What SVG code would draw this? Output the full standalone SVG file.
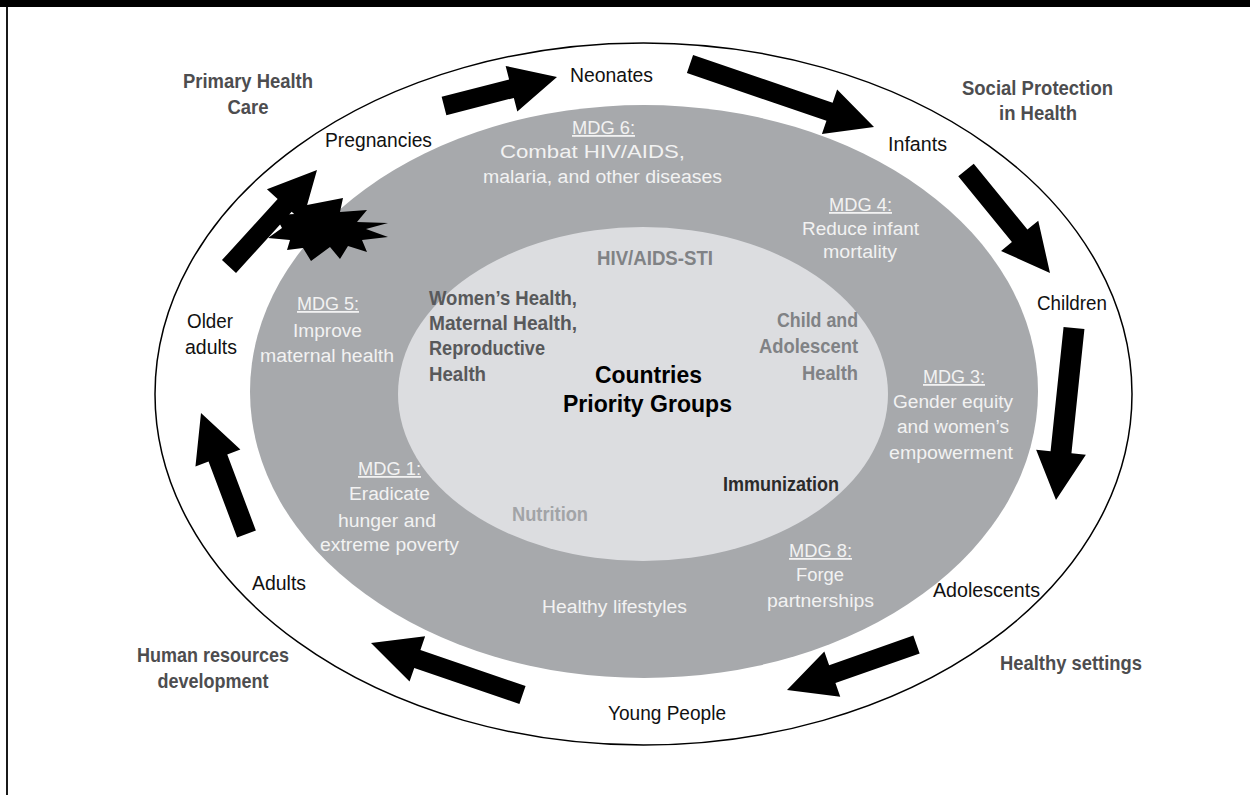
<svg xmlns="http://www.w3.org/2000/svg" width="1250" height="795" viewBox="0 0 1250 795">
<style>
text{lengthAdjust:spacingAndGlyphs}
.lbl{font-family:"Liberation Sans",Arial,sans-serif;font-size:20.5px;fill:#111;text-anchor:middle}
.bold{font-family:"Liberation Sans",Arial,sans-serif;font-weight:bold;font-size:21px;fill:#4d4d4f;text-anchor:middle}
.mdg{font-family:"Liberation Sans",Arial,sans-serif;font-size:18px;fill:#f2f2f2;text-anchor:middle}
.in{font-family:"Liberation Sans",Arial,sans-serif;font-weight:bold;font-size:21px}
.ul{text-decoration:underline}
.arrow{fill:#000}
</style>
<rect x="0" y="0" width="1250" height="795" fill="#fff"/>
<rect x="0" y="0" width="1250" height="7" fill="#000"/>
<line x1="7" y1="0" x2="7" y2="795" stroke="#000" stroke-width="1.8"/>

<g id="rings">
<ellipse id="outer" cx="643.5" cy="394" rx="488.5" ry="351" fill="#fff" stroke="#000" stroke-width="1.5"/>
<ellipse id="mdg-ring" cx="644" cy="391.5" rx="394" ry="286.5" fill="#a7a9ac"/>
<ellipse id="core" cx="643" cy="394" rx="245" ry="167" fill="#dcdde0"/>
</g>

<g id="connectors">
<polygon class="arrow" points="446.36,115.2 513.84,97.88 517.32,111.44 557,77 505.64,65.92 509.12,79.48 441.64,96.8"/>
<polygon class="arrow" points="686.92,72.99 826.45,120.77 821.92,134.01 874,127 837.14,89.55 832.61,102.79 693.08,55.01"/>
<polygon class="arrow" points="958.25,176.32 1011.91,242.12 1001.06,250.97 1050,273 1038.26,220.63 1027.41,229.48 973.75,163.68"/>
<polygon class="arrow" points="1063.56,326.91 1050.56,451.17 1036.13,449.66 1056,500 1085.87,454.86 1071.44,453.35 1084.44,329.09"/>
<polygon class="arrow" points="913.35,635.54 829.14,665.13 824.33,651.45 787,690 840.25,696.73 835.44,683.05 919.65,653.46"/>
<polygon class="arrow" points="525.58,686.01 420.42,649.92 425.13,636.21 371,643 409.55,681.61 414.26,667.9 519.42,703.99"/>
<polygon class="arrow" points="255.86,530.48 227.26,454.41 240.36,449.48 201,413 195.44,466.38 208.54,461.45 237.14,537.52"/>
<polygon class="arrow" points="236.02,272.9 291.68,211.87 302.39,221.64 317,170 266.93,189.3 277.64,199.07 221.98,260.1"/>
<polygon id="burst" class="arrow" points="307,205 343,198 340,212 367,210 357,222 388,223 366,229 388,237 362,240 367,252 348,246 340,259 330,247 311,261 303,248 287,250 290,240 268,238 282,228 275,215 295,214"/>
</g>

<g id="n-pregnancies"><text class="lbl" x="378.5" y="147" textLength="107" lengthAdjust="spacingAndGlyphs">Pregnancies</text></g>
<g id="n-neonates"><text class="lbl" x="611.5" y="82" textLength="83" lengthAdjust="spacingAndGlyphs">Neonates</text></g>
<g id="n-infants"><text class="lbl" x="917.5" y="151" textLength="59" lengthAdjust="spacingAndGlyphs">Infants</text></g>
<g id="n-children"><text class="lbl" x="1072" y="310" textLength="70" lengthAdjust="spacingAndGlyphs">Children</text></g>
<g id="n-adolescents"><text class="lbl" x="986.5" y="597" textLength="107" lengthAdjust="spacingAndGlyphs">Adolescents</text></g>
<g id="n-young"><text class="lbl" x="667" y="720" textLength="118" lengthAdjust="spacingAndGlyphs">Young People</text></g>
<g id="n-adults"><text class="lbl" x="279" y="590" textLength="54" lengthAdjust="spacingAndGlyphs">Adults</text></g>
<g id="n-older"><text class="lbl" x="210" y="328" textLength="46" lengthAdjust="spacingAndGlyphs">Older</text><text class="lbl" x="211" y="354" textLength="52" lengthAdjust="spacingAndGlyphs">adults</text></g>

<g id="a-phc"><text class="bold" x="248" y="88" textLength="130" lengthAdjust="spacingAndGlyphs">Primary Health</text><text class="bold" x="248" y="114" textLength="41" lengthAdjust="spacingAndGlyphs">Care</text></g>
<g id="a-sph"><text class="bold" x="1037.5" y="95" textLength="151" lengthAdjust="spacingAndGlyphs">Social Protection</text><text class="bold" x="1038" y="120" textLength="78" lengthAdjust="spacingAndGlyphs">in Health</text></g>
<g id="a-hs"><text class="bold" x="1071" y="670" textLength="142" lengthAdjust="spacingAndGlyphs">Healthy settings</text></g>
<g id="a-hrd"><text class="bold" x="213" y="662" textLength="152" lengthAdjust="spacingAndGlyphs">Human resources</text><text class="bold" x="213" y="688" textLength="111" lengthAdjust="spacingAndGlyphs">development</text></g>

<g id="mdg6"><text class="mdg" x="603.5" y="134" textLength="63" lengthAdjust="spacingAndGlyphs"><tspan class="ul">MDG 6:</tspan></text><text class="mdg" x="592.5" y="158" textLength="185" lengthAdjust="spacingAndGlyphs">Combat HIV/AIDS,</text><text class="mdg" x="602.5" y="183" textLength="239" lengthAdjust="spacingAndGlyphs">malaria, and other diseases</text></g>
<g id="mdg4"><text class="mdg" x="860.5" y="211" textLength="63" lengthAdjust="spacingAndGlyphs"><tspan class="ul">MDG 4:</tspan></text><text class="mdg" x="860.5" y="235" textLength="117" lengthAdjust="spacingAndGlyphs">Reduce infant</text><text class="mdg" x="860" y="258" textLength="74" lengthAdjust="spacingAndGlyphs">mortality</text></g>
<g id="mdg5"><text class="mdg" x="328" y="310" textLength="62" lengthAdjust="spacingAndGlyphs"><tspan class="ul">MDG 5:</tspan></text><text class="mdg" x="327.5" y="337" textLength="69" lengthAdjust="spacingAndGlyphs">Improve</text><text class="mdg" x="327" y="362" textLength="134" lengthAdjust="spacingAndGlyphs">maternal health</text></g>
<g id="mdg3"><text class="mdg" x="954" y="383" textLength="62" lengthAdjust="spacingAndGlyphs"><tspan class="ul">MDG 3:</tspan></text><text class="mdg" x="953" y="408" textLength="120" lengthAdjust="spacingAndGlyphs">Gender equity</text><text class="mdg" x="953" y="433" textLength="112" lengthAdjust="spacingAndGlyphs">and women’s</text><text class="mdg" x="951" y="459" textLength="124" lengthAdjust="spacingAndGlyphs">empowerment</text></g>
<g id="mdg1"><text class="mdg" x="389.5" y="475" textLength="63" lengthAdjust="spacingAndGlyphs"><tspan class="ul">MDG 1:</tspan></text><text class="mdg" x="389.5" y="500" textLength="81" lengthAdjust="spacingAndGlyphs">Eradicate</text><text class="mdg" x="387" y="527" textLength="98" lengthAdjust="spacingAndGlyphs">hunger and</text><text class="mdg" x="389.5" y="551" textLength="139" lengthAdjust="spacingAndGlyphs">extreme poverty</text></g>
<g id="mdg8"><text class="mdg" x="820.5" y="557" textLength="63" lengthAdjust="spacingAndGlyphs"><tspan class="ul">MDG 8:</tspan></text><text class="mdg" x="820" y="581" textLength="48" lengthAdjust="spacingAndGlyphs">Forge</text><text class="mdg" x="820.5" y="607" textLength="107" lengthAdjust="spacingAndGlyphs">partnerships</text></g>
<g id="lifestyles"><text class="mdg" x="614.5" y="613" textLength="145" lengthAdjust="spacingAndGlyphs">Healthy lifestyles</text></g>

<g id="c-hiv"><text class="in" x="655" y="265" text-anchor="middle" fill="#808285" textLength="116" lengthAdjust="spacingAndGlyphs">HIV/AIDS-STI</text></g>
<g id="c-women" fill="#58595b"><text class="in" x="429" y="305" textLength="148" lengthAdjust="spacingAndGlyphs">Women’s Health,</text><text class="in" x="429" y="330" textLength="148" lengthAdjust="spacingAndGlyphs">Maternal Health,</text><text class="in" x="429" y="355" textLength="116" lengthAdjust="spacingAndGlyphs">Reproductive</text><text class="in" x="429" y="381" textLength="57" lengthAdjust="spacingAndGlyphs">Health</text></g>
<g id="c-child" fill="#808285"><text class="in" x="858" y="327" text-anchor="end" textLength="81" lengthAdjust="spacingAndGlyphs">Child and</text><text class="in" x="858" y="353" text-anchor="end" textLength="99" lengthAdjust="spacingAndGlyphs">Adolescent</text><text class="in" x="858" y="380" text-anchor="end" textLength="56" lengthAdjust="spacingAndGlyphs">Health</text></g>
<g id="c-center" fill="#000"><text class="in" x="648.5" y="383" text-anchor="middle" style="font-size:24px" textLength="107" lengthAdjust="spacingAndGlyphs">Countries</text><text class="in" x="647.5" y="412" text-anchor="middle" style="font-size:24px" textLength="169" lengthAdjust="spacingAndGlyphs">Priority Groups</text></g>
<g id="c-imm"><text class="in" x="781" y="491" text-anchor="middle" fill="#2b2b2b" textLength="116" lengthAdjust="spacingAndGlyphs">Immunization</text></g>
<g id="c-nut"><text class="in" x="550" y="521" text-anchor="middle" fill="#a2a4a7" textLength="76" lengthAdjust="spacingAndGlyphs">Nutrition</text></g>
</svg>
